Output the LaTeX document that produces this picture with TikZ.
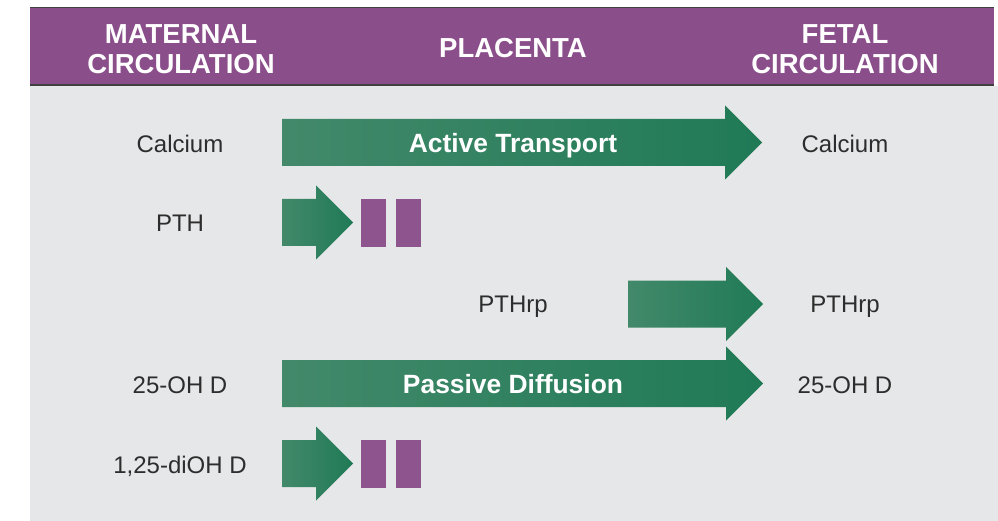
\documentclass[tikz,border=0pt]{standalone}
\usepackage{fontspec}
\setmainfont{Liberation Sans}
\usepackage{tikz}
\usetikzlibrary{calc}

\definecolor{headpurple}{RGB}{138,78,138}
\definecolor{barpurple}{RGB}{142,84,142}
\definecolor{bodygray}{RGB}{230,231,232}
\definecolor{greenlight}{RGB}{66,137,106}
\definecolor{greendark}{RGB}{32,122,86}
\definecolor{labelgray}{RGB}{45,45,45}

% shaded block arrow: left end, tip, middle height
\newcommand{\transarrow}[3]{%
  \shade[left color=greenlight, right color=greendark]
    (#1,#3-23.5) -- (#2-37,#3-23.5) -- (#2-37,#3-37) -- (#2,#3)
    -- (#2-37,#3+37) -- (#2-37,#3+23.5) -- (#1,#3+23.5) -- cycle;}

\begin{document}
\begin{tikzpicture}[x=1pt,y=-1pt]
                      \tikzstyle{head}=[inner sep=0pt,align=center,text=white,font=\fontsize{27.5}{30}\selectfont\bfseries]
                      \tikzstyle{label}=[inner sep=0pt,anchor=base,text=labelgray,font=\fontsize{24}{28}\selectfont]
                      \tikzstyle{route}=[inner sep=0pt,anchor=base,text=white,font=\fontsize{26.4}{30}\selectfont\bfseries]
                      \tikzstyle{stopbar}=[fill=barpurple]
                      \useasboundingbox (0,0) rectangle (998,521);
                      \fill[bodygray] (30,86) rectangle (998,521);
                      \fill[headpurple] (30,7.5) rectangle (994,85);
                      \draw[line width=1.5pt,black!75] (30,7.5) -- (994,7.5);
                      \draw[line width=1.5pt,black!75] (30,85) -- (994,85);
                      \node[head] (mat) at (181,49) {MATERNAL\\CIRCULATION};
                      \node[head] (pla) at (513,48) {PLACENTA};
                      \node[head] (fet) at (845,49) {FETAL\\CIRCULATION};
                      \transarrow{282}{762}{142.5}
                      \transarrow{282}{353}{222.5}
                      \transarrow{628}{763}{304}
                      \transarrow{282}{763}{383.5}
                      \transarrow{282}{353}{463.5}
                      \foreach \y in {199,440} {
                        \fill[stopbar] (361,\y) rectangle (386,\y+48);
                        \fill[stopbar] (396,\y) rectangle (421,\y+48);
                      }
                      \node[route] (act) at (513,153) {Active Transport};
                      \node[route] (pas) at (513,393) {Passive Diffusion};
                      \node[label] (mca) at (180,153) {Calcium};
                      \node[label] (mpth) at (180,232) {PTH};
                      \node[label] (mvd) at (180,393) {25-OH D};
                      \node[label] (mdi) at (180,473) {1,25-diOH D};
                      \node[label] (prp) at (513,312) {PTHrp};
                      \node[label] (fca) at (845,153) {Calcium};
                      \node[label] (frp) at (845,312) {PTHrp};
                      \node[label] (fvd) at (845,393) {25-OH D};
                  \end{tikzpicture}
\end{document}
